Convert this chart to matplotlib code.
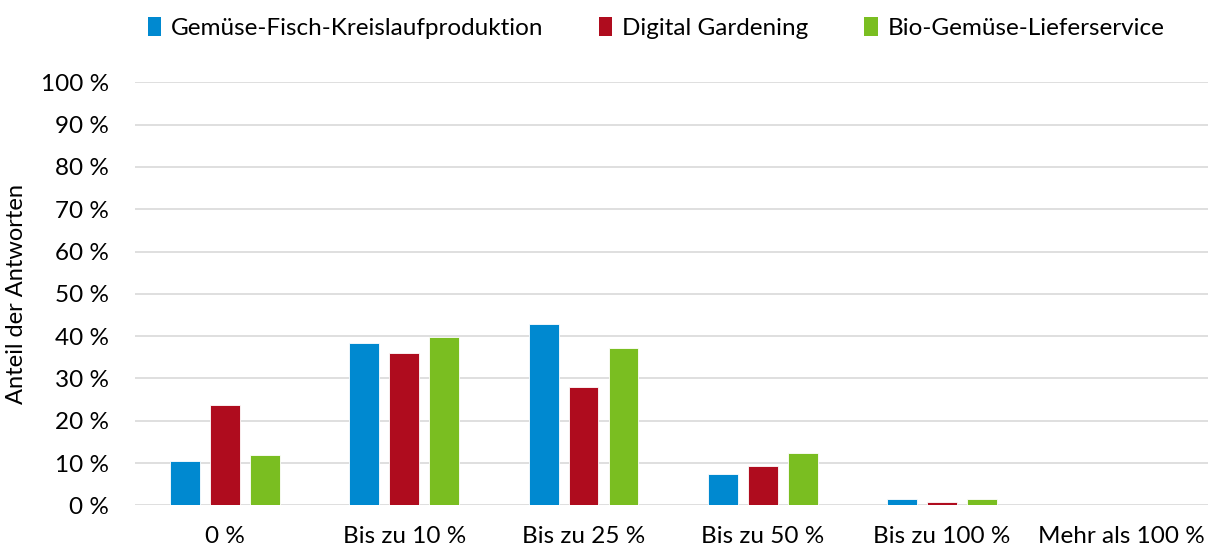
import matplotlib
matplotlib.use("Agg")
import matplotlib.pyplot as plt
from matplotlib.patches import Patch
from matplotlib.ticker import FuncFormatter
import numpy as np

categories = ["0 %", "Bis zu 10 %", "Bis zu 25 %", "Bis zu 50 %", "Bis zu 100 %", "Mehr als 100 %"]
series_names = ["Gemüse-Fisch-Kreislaufproduktion", "Digital Gardening", "Bio-Gemüse-Lieferservice"]
fisch = [10.4, 38.4, 42.8, 7.4, 1.4, 0.0]
gardening = [23.6, 35.9, 27.9, 9.3, 0.8, 0.0]
liefer = [11.8, 39.8, 37.2, 12.3, 1.4, 0.0]
colors = ["#0089D0", "#AF0C1E", "#7ABE21"]

plt.rcParams["font.family"] = ["Lato", "DejaVu Sans"]

W, H = 1208, 549
fig = plt.figure(figsize=(W / 100, H / 100), dpi=100)
left, right = 135.4, 1208
bottom, top = 505.3, 82.3
ax = fig.add_axes([left / W, 1 - bottom / H, (right - left) / W, (bottom - top) / H])

x = np.arange(len(categories))
step = 0.223
width = 0.167
for i, (vals, col) in enumerate(zip([fisch, gardening, liefer], colors)):
    ax.bar(x + (i - 1) * step, vals, width, color=col, edgecolor="white", linewidth=0.6, zorder=3)

ax.set_xlim(-0.5, -0.5 + (right - left) / 179.25)
ax.set_ylim(0, 100)
ax.set_yticks(np.arange(0, 101, 10))
ax.yaxis.set_major_formatter(FuncFormatter(lambda v, p: f"{v:.0f} %"))
ax.set_xticks(x)
ax.set_xticklabels(categories)
ax.grid(axis="y", color="#d9d9d9", linewidth=1.2, zorder=0)
for s in ax.spines.values():
    s.set_visible(False)
ax.tick_params(axis="both", length=0, labelsize=17.5, colors="black")
ax.tick_params(axis="y", pad=19)
ax.tick_params(axis="x", pad=15)
ax.set_ylabel("Anteil der Antworten", fontsize=17, labelpad=10)

handles = [Patch(facecolor=c, edgecolor="none") for c in colors]
fig.legend(handles, series_names, loc="center", bbox_to_anchor=(0.543, 1 - 28 / H), ncol=3,
           frameon=False, fontsize=17.5, handlelength=0.55, handleheight=0.85,
           handletextpad=0.4, columnspacing=2.3)

fig.savefig("out.png", dpi=100)
